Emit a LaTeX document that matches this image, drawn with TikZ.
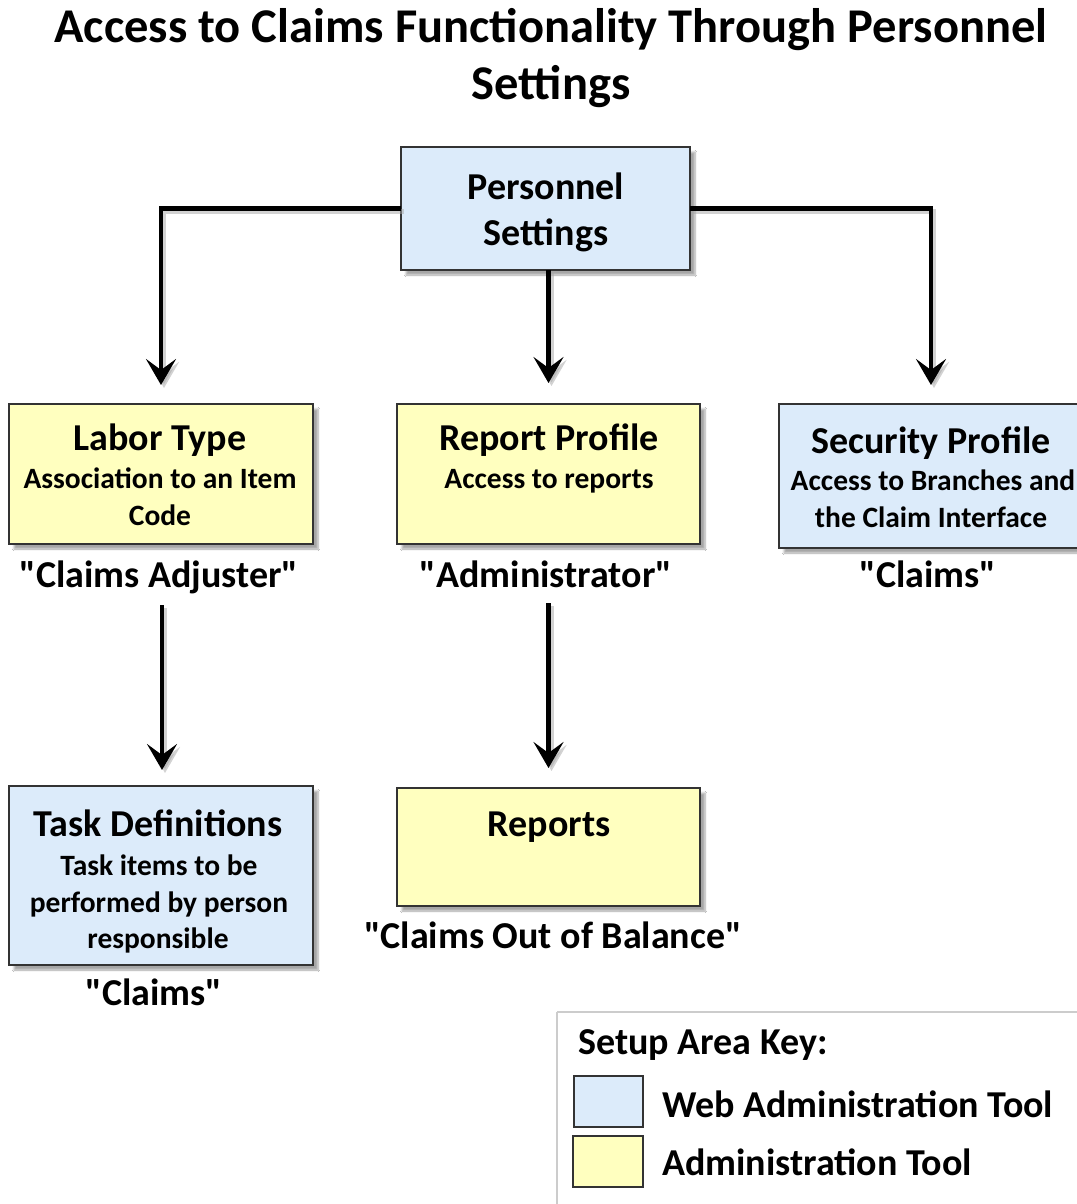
\documentclass[tikz,border=0pt]{standalone}
\usepackage{fontspec}
\setmainfont{Carlito}[Ligatures=TeXOff]
\usetikzlibrary{arrows.meta,shadows.blur}
\definecolor{webblue}{HTML}{DCEBFA}
\definecolor{admyellow}{HTML}{FFFFBF}
\definecolor{boxedge}{HTML}{333333}
\tikzset{
  box/.style={draw=boxedge, line width=1.6pt, inner sep=0pt, outer sep=0pt,
    blur shadow={shadow xshift=5pt, shadow yshift=-5pt, shadow blur steps=6, shadow opacity=35}},
  webbox/.style={box, fill=webblue},
  admbox/.style={box, fill=admyellow},
  swatch/.style={draw=boxedge, line width=1.6pt, inner sep=0pt, outer sep=0pt},
  ttl/.style={font=\bfseries\fontsize{38}{44}\selectfont, anchor=base, inner sep=0pt},
  sub/.style={font=\bfseries\fontsize{29.5}{35}\selectfont, anchor=base, inner sep=0pt},
  lbl/.style={font=\bfseries\fontsize{38}{44}\selectfont, anchor=base, inner sep=0pt},
  big/.style={font=\bfseries\fontsize{48.5}{57}\selectfont, anchor=base, inner sep=0pt},
  conn/.style={line width=4.5pt, -{Stealth[length=26pt,width=30pt,inset=11pt]}},
  connshadow/.style={conn, draw=black!35, opacity=0.5, transform canvas={shift={(3pt,-3pt)}}},
}
\begin{document}
\begin{tikzpicture}[x=1pt,y=-1pt]
\useasboundingbox (0,0) rectangle (1076,1204);
\fill[white] (0,0) rectangle (1076,1204);

% title
\node[big] (title1) at (551,43) {Access to Claims Functionality Through Personnel};
\node[big] (title2) at (551,100) {Settings};

% boxes
\node[webbox, minimum width=289pt, minimum height=123pt] (ps) at (545.5,208.5) {};
\node[admbox, minimum width=304pt, minimum height=140pt] (lt) at (161,474) {};
\node[admbox, minimum width=303pt, minimum height=140pt] (rp) at (548.5,474) {};
\node[webbox, minimum width=301pt, minimum height=144pt] (sp) at (929.5,476) {};
\node[webbox, minimum width=304pt, minimum height=179pt] (td) at (161,875.5) {};
\node[admbox, minimum width=303pt, minimum height=118pt] (rep) at (548.5,847) {};

% connectors (shadows first)
\draw[connshadow, shorten >=19pt] (ps.west) -| (lt.north);
\draw[connshadow, shorten >=21pt] (rp.north |- ps.south) -- (rp.north);
\draw[connshadow, shorten >=19pt] (ps.east) -| ([xshift=1.5pt]sp.north);
\draw[connshadow, shorten <=61pt, shorten >=16pt] ([xshift=1pt]lt.south) -- ([xshift=1pt]td.north);
\draw[connshadow, shorten <=59pt, shorten >=20pt] (rp.south) -- (rep.north);

\draw[conn, shorten >=19pt] (ps.west) -| (lt.north);
\draw[conn, shorten >=21pt] (rp.north |- ps.south) -- (rp.north);
\draw[conn, shorten >=19pt] (ps.east) -| ([xshift=1.5pt]sp.north);
\draw[conn, shorten <=61pt, shorten >=16pt] ([xshift=1pt]lt.south) -- ([xshift=1pt]td.north);
\draw[conn, shorten <=59pt, shorten >=20pt] (rp.south) -- (rep.north);

% texts
\node[ttl] (pst1) at (546,199) {Personnel};
\node[ttl] (pst2) at (546,245) {Settings};

\node[ttl] (ltt) at (160,450) {Labor Type};
\node[sub] (lts1) at (160,488) {Association to an Item};
\node[sub] (lts2) at (160,525) {Code};
\node[lbl] (ltl) at (159,587) {"Claims Adjuster"};

\node[ttl] (rpt) at (549,450) {Report Profile};
\node[sub] (rps1) at (549,488) {Access to reports};
\node[lbl] (rpl) at (546,587) {"Administrator"};

\node[ttl] (spt) at (931,453) {Security Profile};
\node[sub] (sps1) at (933,490) {Access to Branches and};
\node[sub] (sps2) at (931,527) {the Claim Interface};
\node[lbl] (spl) at (928,587) {"Claims"};

\node[ttl] (tdt) at (158,836) {Task Definitions};
\node[sub] (tds1) at (159,875) {Task items to be};
\node[sub] (tds2) at (159,912) {performed by person};
\node[sub] (tds3) at (158,948) {responsible};
\node[lbl] (tdl) at (154,1005) {"Claims"};

\node[ttl] (rept) at (549,836) {Reports};
\node[lbl] (repl) at (553,948) {"Claims Out of Balance"};

% legend
\draw[draw=black!20, line width=2pt] (557,1012) -- (1080,1012);
\draw[draw=black!20, line width=2pt] (557,1012) -- (557,1210);
\node[ttl, anchor=base west] (keyt) at (578,1054) {Setup Area Key:};
\node[swatch, fill=webblue, minimum width=69pt, minimum height=51pt] (kw) at (608.5,1101.5) {};
\node[swatch, fill=admyellow, minimum width=70pt, minimum height=51pt] (ka) at (608,1161.5) {};
\node[ttl, anchor=base west] (kwt) at (662,1117) {Web Administration Tool};
\node[ttl, anchor=base west] (kat) at (662,1175) {Administration Tool};
\end{tikzpicture}
\end{document}
